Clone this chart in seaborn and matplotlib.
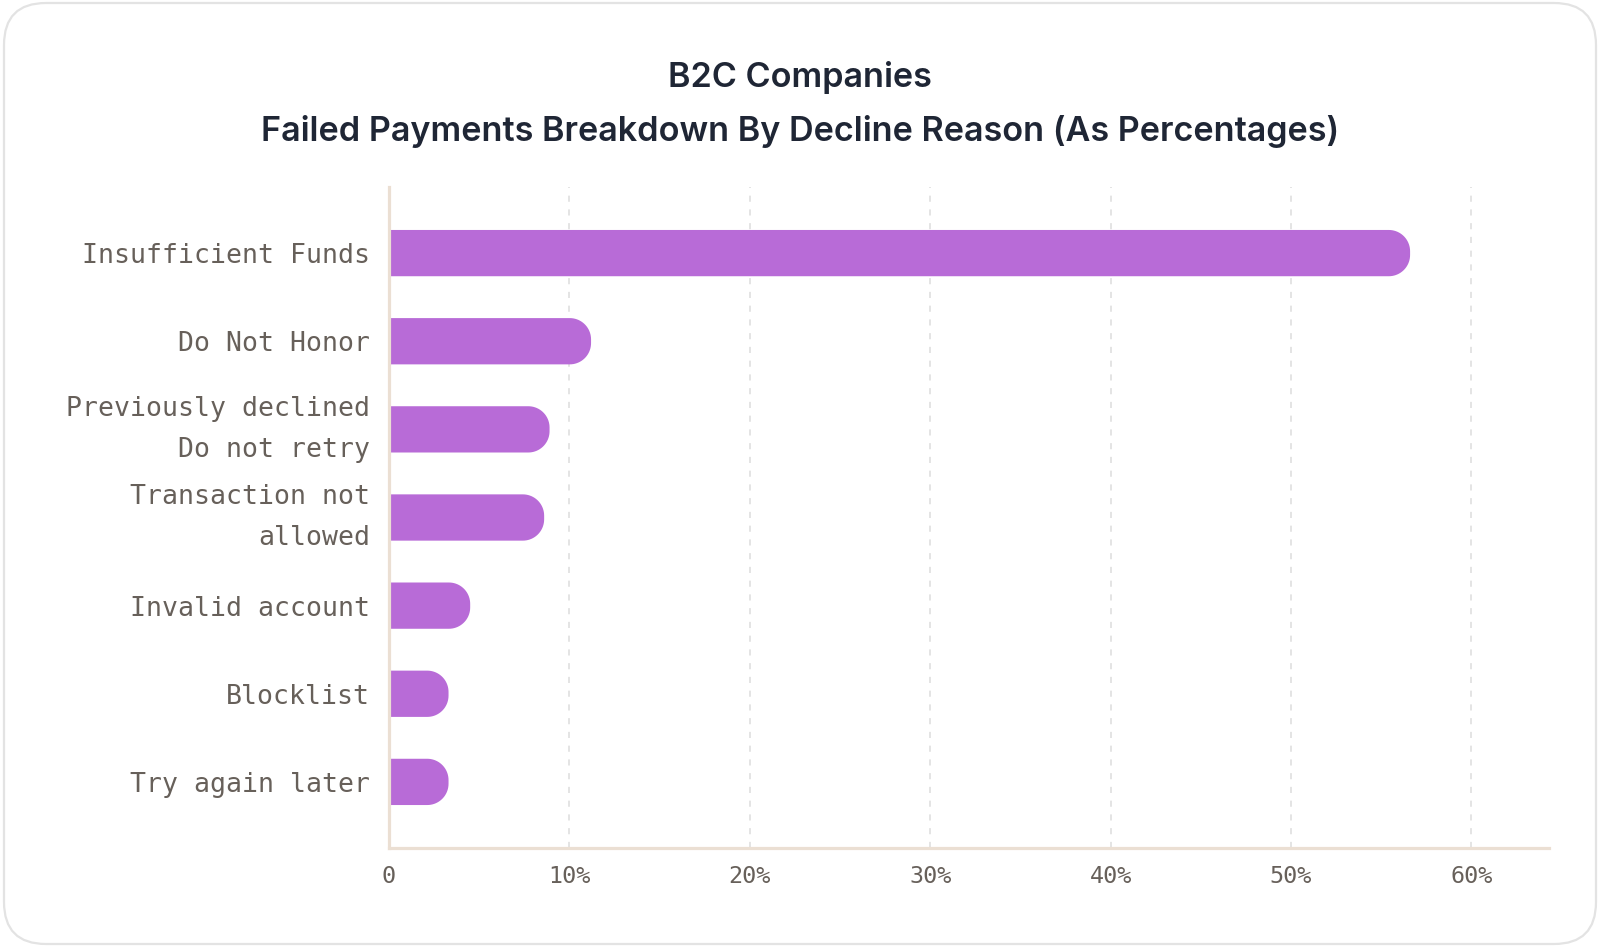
import matplotlib
matplotlib.use("Agg")
import matplotlib.pyplot as plt
from matplotlib.patches import FancyBboxPatch, PathPatch
from matplotlib.path import Path
import numpy as np
import seaborn as sns
import pandas as pd

categories = [
    "Insufficient Funds",
    "Do Not Honor",
    "Previously declined\nDo not retry",
    "Transaction not\nallowed",
    "Invalid account",
    "Blocklist",
    "Try again later",
]
values = [56.6, 11.2, 8.9, 8.6, 4.5, 3.3, 3.3]
x_ticks = [0, 10, 20, 30, 40, 50, 60]
x_tick_labels = ["0", "10%", "20%", "30%", "40%", "50%", "60%"]
title_line1 = "B2C Companies"
title_line2 = "Failed Payments Breakdown By Decline Reason (As Percentages)"

BAR = "#b86bd7"
LABEL = "#67605a"
SPINE = "#ebdfd3"
GRID = "#dcdcdc"
TITLE = "#1f2635"

sns.set_theme(style="white")
plt.rcParams["font.family"] = ["DejaVu Sans Mono"]

W, H = 1600, 949
fig = plt.figure(figsize=(W / 100, H / 100), dpi=100)
fig.patch.set_facecolor("white")

# background card
bg = fig.add_axes([0, 0, 1, 1], zorder=-5)
bg.set_xlim(0, W)
bg.set_ylim(H, 0)
bg.axis("off")
bg.add_patch(FancyBboxPatch((4, 3), W - 8, H - 8,
                            boxstyle="round,pad=0,rounding_size=42",
                            facecolor="white", edgecolor="#e3e3e3", linewidth=1.6))

L, R, T, B = 389, 1549, 187, 848
ax = fig.add_axes([L / W, 1 - B / H, (R - L) / W, (B - T) / H])
ax.set_facecolor("none")

df = pd.DataFrame({"reason": categories, "pct": values})
sns.barplot(data=df, x="pct", y="reason", orient="h", color=BAR,
            width=0.525, saturation=1, ax=ax, zorder=3)

xmax = 64.3
ax.set_xlim(0, xmax)
ax.set_ylim(6.75, -0.75)

# replace each bar by one with a rounded right end (circular corners in pixels)
px_per_x = (R - L) / xmax
px_per_y = (B - T) / 7.5
for p in list(ax.patches):
    x0, y0, w, h = p.get_x(), p.get_y(), p.get_width(), p.get_height()
    p.remove()
    r_px = 0.46 * h * px_per_y
    rx = r_px / px_per_x
    ry = r_px / px_per_y
    x1 = x0 + w
    ya, yb = y0, y0 + h
    t1 = np.linspace(-np.pi / 2, 0, 20)
    t2 = np.linspace(0, np.pi / 2, 20)
    c1 = np.column_stack([x1 - rx + rx * np.cos(t1), ya + ry + ry * np.sin(t1)])
    c2 = np.column_stack([x1 - rx + rx * np.cos(t2), yb - ry + ry * np.sin(t2)])
    verts = np.vstack([[x0 - 1, ya], c1, c2, [x0 - 1, yb], [x0 - 1, ya]])
    codes = [Path.MOVETO] + [Path.LINETO] * (len(verts) - 2) + [Path.CLOSEPOLY]
    ax.add_patch(PathPatch(Path(verts, codes), facecolor=BAR, edgecolor="none",
                           zorder=3))

ax.set_xticks(x_ticks)
ax.set_xticklabels(x_tick_labels)
ax.set_xlabel("")
ax.set_ylabel("")
ax.tick_params(axis="y", length=0, pad=13.5, labelsize=19.1, labelcolor=LABEL)
ax.tick_params(axis="x", length=0, pad=12, labelsize=16.8, labelcolor=LABEL)
for lab in ax.get_yticklabels():
    lab.set_linespacing(1.75)
    if "\n" in lab.get_text():
        lab.set_verticalalignment("center")

ax.xaxis.grid(True, linestyle=(0, (4, 5)), color=GRID, linewidth=1.1, zorder=0)
ax.yaxis.grid(False)
for s in ["top", "right"]:
    ax.spines[s].set_visible(False)
for s in ["left", "bottom"]:
    ax.spines[s].set_color(SPINE)
    ax.spines[s].set_linewidth(2.3)
    ax.spines[s].set_zorder(4)

fig.text(0.5, 1 - 77.5 / H, title_line1, ha="center", va="center",
         fontsize=24.6, fontweight="semibold", color=TITLE, family=["Inter", "DejaVu Sans"])
fig.text(0.5, 1 - 132 / H, title_line2, ha="center", va="center",
         fontsize=24.6, fontweight="semibold", color=TITLE, family=["Inter", "DejaVu Sans"])

fig.savefig("out.png", dpi=100, facecolor="white")
